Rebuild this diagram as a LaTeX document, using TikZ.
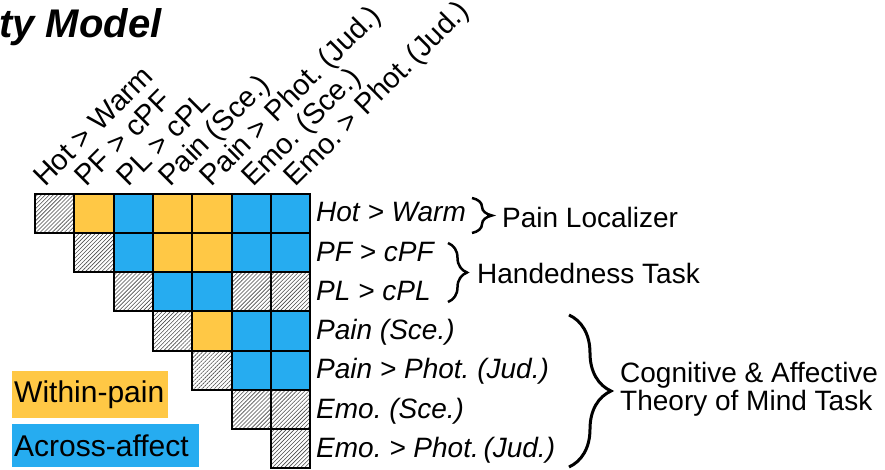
\documentclass[tikz,border=0pt]{standalone}
\usepackage{fontspec}
\setmainfont{Liberation Sans}
\usetikzlibrary{patterns.meta,decorations.pathreplacing}
\frenchspacing
\definecolor{painY}{RGB}{255,200,69}
\definecolor{affB}{RGB}{38,172,240}
\tikzset{
  cellbox/.style={draw=black, line width=2pt, minimum width=39.3pt, minimum height=39.15pt, inner sep=0pt, outer sep=0pt},
  within/.style={cellbox, fill=painY},
  across/.style={cellbox, fill=affB},
  selfcell/.style={cellbox, pattern={Lines[angle=45,distance=2.85pt,line width=0.6pt]}, pattern color=black!70},
  rowlab/.style={anchor=base west, inner sep=0pt, font=\fontsize{28}{33}\selectfont\itshape},
  collab/.style={anchor=base west, inner sep=0pt, rotate=45, font=\fontsize{29}{34}\selectfont},
  grouplab/.style={anchor=base west, inner sep=0pt, font=\fontsize{28}{33}\selectfont},
  legendbox/.style={anchor=north west, inner xsep=2pt, inner ysep=0pt, align=left, font=\fontsize{30}{34}\selectfont},
  bracepath/.style={decorate, decoration={brace, amplitude=#1}, line width=2.5pt},
}
\begin{document}
\begin{tikzpicture}[x=1pt,y=-1pt]
  % canvas
  \fill[white] (0,0) rectangle (885,470);
  \useasboundingbox (0,0) rectangle (885,470);

  % title fragment
  \node[anchor=base west, inner sep=0pt, font=\fontsize{40}{44}\selectfont\bfseries\itshape] (title) at (-1,38) {ty Model};

  % upper-triangular matrix of contrasts
  \foreach \r/\c/\kind in {
    0/0/selfcell, 0/1/within, 0/2/across, 0/3/within, 0/4/within, 0/5/across, 0/6/across,
    1/1/selfcell, 1/2/across, 1/3/within, 1/4/within, 1/5/across, 1/6/across,
    2/2/selfcell, 2/3/across, 2/4/across, 2/5/selfcell, 2/6/selfcell,
    3/3/selfcell, 3/4/within, 3/5/across, 3/6/across,
    4/4/selfcell, 4/5/across, 4/6/across,
    5/5/selfcell, 5/6/selfcell,
    6/6/selfcell}
  {
    \node[\kind] (cell-\r-\c) at ({35+39.3*(\c+0.5)},{194+39.15*(\r+0.5)}) {};
  }

  % row labels
  \foreach \k/\txt in {0/{Hot > Warm}, 1/{PF > cPF}, 2/{PL > cPL}, 3/{Pain (Sce.)},
                       4/{Pain > Phot. (Jud.)}, 5/{Emo. (Sce.)}, 6/{Emo. > Phot.\,(Jud.)}}
  {
    \node[rowlab] (row-\k) at (316,{222+39.2*\k}) {\txt};
  }

  % column labels
  \foreach \k/\txt in {0/{Hot > Warm}, 1/{PF > cPF}, 2/{PL > cPL}, 3/{Pain (Sce.)},
                       4/{Pain > Phot. (Jud.)}, 5/{Emo. (Sce.)}, 6/{Emo. > Phot.\,(Jud.)}}
  {
    \node[collab] (col-\k) at ({45+41.7*\k},188) {\txt};
  }

  % task groupings
  \draw[bracepath=20pt] (472,198) -- (472,233);
  \node[grouplab] (g-pain) at (502,228) {Pain Localizer};

  \draw[bracepath=19pt] (448,243) -- (448,302);
  \node[grouplab] (g-hand) at (477,283) {Handedness Task};

  \draw[bracepath=42pt, line width=3pt] (569,315) -- (569,467);
  \node[grouplab] (g-tom1) at (620,382) {Cognitive \& Affective};
  \node[grouplab] (g-tom2) at (620,410) {Theory of Mind Task};

  % legend
  \node[legendbox, fill=painY, text width=152pt, minimum height=47pt] (leg-within) at (12,371) {Within-pain};
  \node[legendbox, fill=affB, text width=183pt, minimum height=43pt] (leg-across) at (12,424) {Across-affect};
\end{tikzpicture}
\end{document}
